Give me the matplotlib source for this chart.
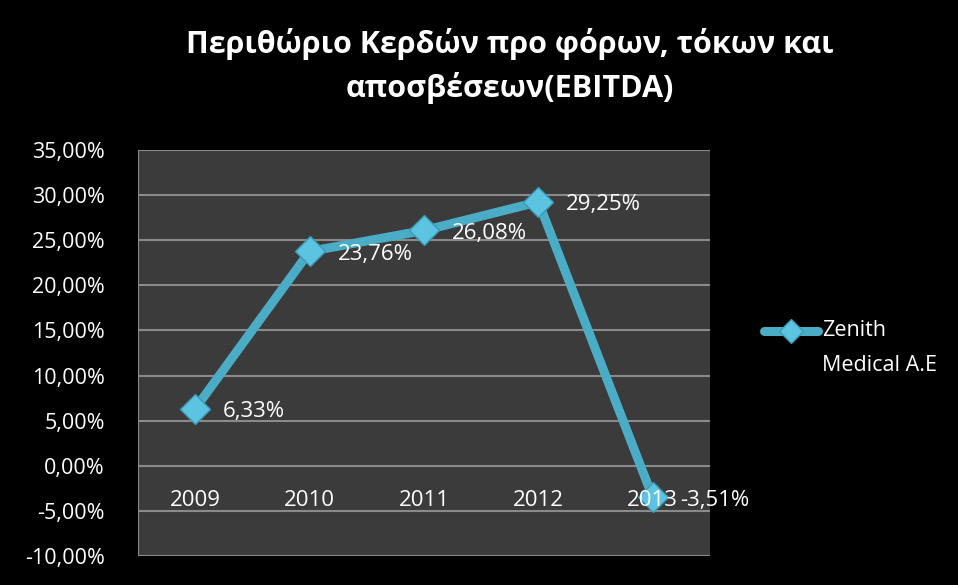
import numpy as np
import matplotlib.pyplot as plt
from matplotlib.lines import Line2D

# data
years = ['2009', '2010', '2011', '2012', '2013']
ebitda_margin = [6.33, 23.76, 26.08, 29.25, -3.51]
series_name = 'Zenith\nMedical A.E'
title = 'Περιθώριο Κερδών προ φόρων, τόκων και\nαποσβέσεων(EBITDA)'

LINE_COLOR = '#4bacc6'
MARKER_COLOR = '#5cc4e0'

plt.rcParams['font.family'] = ['Open Sans', 'DejaVu Sans']

fig = plt.figure(figsize=(9.58, 5.85), dpi=100, facecolor='black')
ax = fig.add_axes([138 / 958, 1 - 556 / 585, 572 / 958, 406 / 585])
ax.set_facecolor('#3b3b3b')

x = np.arange(len(years))
ax.plot(x, ebitda_margin, color=LINE_COLOR, linewidth=6.5, solid_capstyle='round',
        marker='D', markersize=15, markerfacecolor=MARKER_COLOR,
        markeredgecolor='#3a9ab5', markeredgewidth=1, zorder=3)

for xi, v in zip(x, ebitda_margin):
    ax.annotate(f'{v:.2f}%'.replace('.', ','), (xi, v), xytext=(20, -2),
                textcoords='offset points', color='white', fontsize=16,
                va='center', ha='left', zorder=4)

ax.set_xlim(-0.5, len(years) - 0.5)
ax.set_ylim(-10, 35)
yticks = np.arange(-10, 36, 5)
ax.set_yticks(yticks)
ax.set_yticklabels([f'{t:.2f}%'.replace('.', ',') for t in yticks],
                   color='white', fontsize=15.5)
ax.tick_params(axis='y', length=0, pad=24)
ax.set_xticks([])
ax.grid(axis='y', color='#8a8a8a', linewidth=1.5)
ax.set_axisbelow(True)
for s in ax.spines.values():
    s.set_visible(False)
ax.axvline(-0.5, color='#8a8a8a', linewidth=1.5)

# category labels sit just below the zero line
for xi, yr in zip(x, years):
    ax.text(xi, -3.9, yr, color='white', fontsize=16, ha='center', va='center')

fig.text(510 / 958, 1 - 66 / 585, title, color='white', fontsize=22, fontweight='bold',
         ha='center', va='center', linespacing=1.5)

# legend key drawn like the spreadsheet: key beside the first line of wrapped text
key_y = 1 - 331 / 585
fig.add_artist(Line2D([764 / 958, 818 / 958], [key_y, key_y], color=LINE_COLOR,
                      linewidth=6.5, solid_capstyle='round', transform=fig.transFigure))
fig.add_artist(Line2D([791 / 958], [key_y], marker='D', markersize=12,
                      markerfacecolor=MARKER_COLOR, markeredgecolor='#3a9ab5',
                      linestyle='none', transform=fig.transFigure))
fig.text(822 / 958, 1 - 320 / 585, series_name, color='white', fontsize=15.5,
         ha='left', va='top', linespacing=1.85)

fig.savefig('out.png', dpi=100, facecolor='black')
